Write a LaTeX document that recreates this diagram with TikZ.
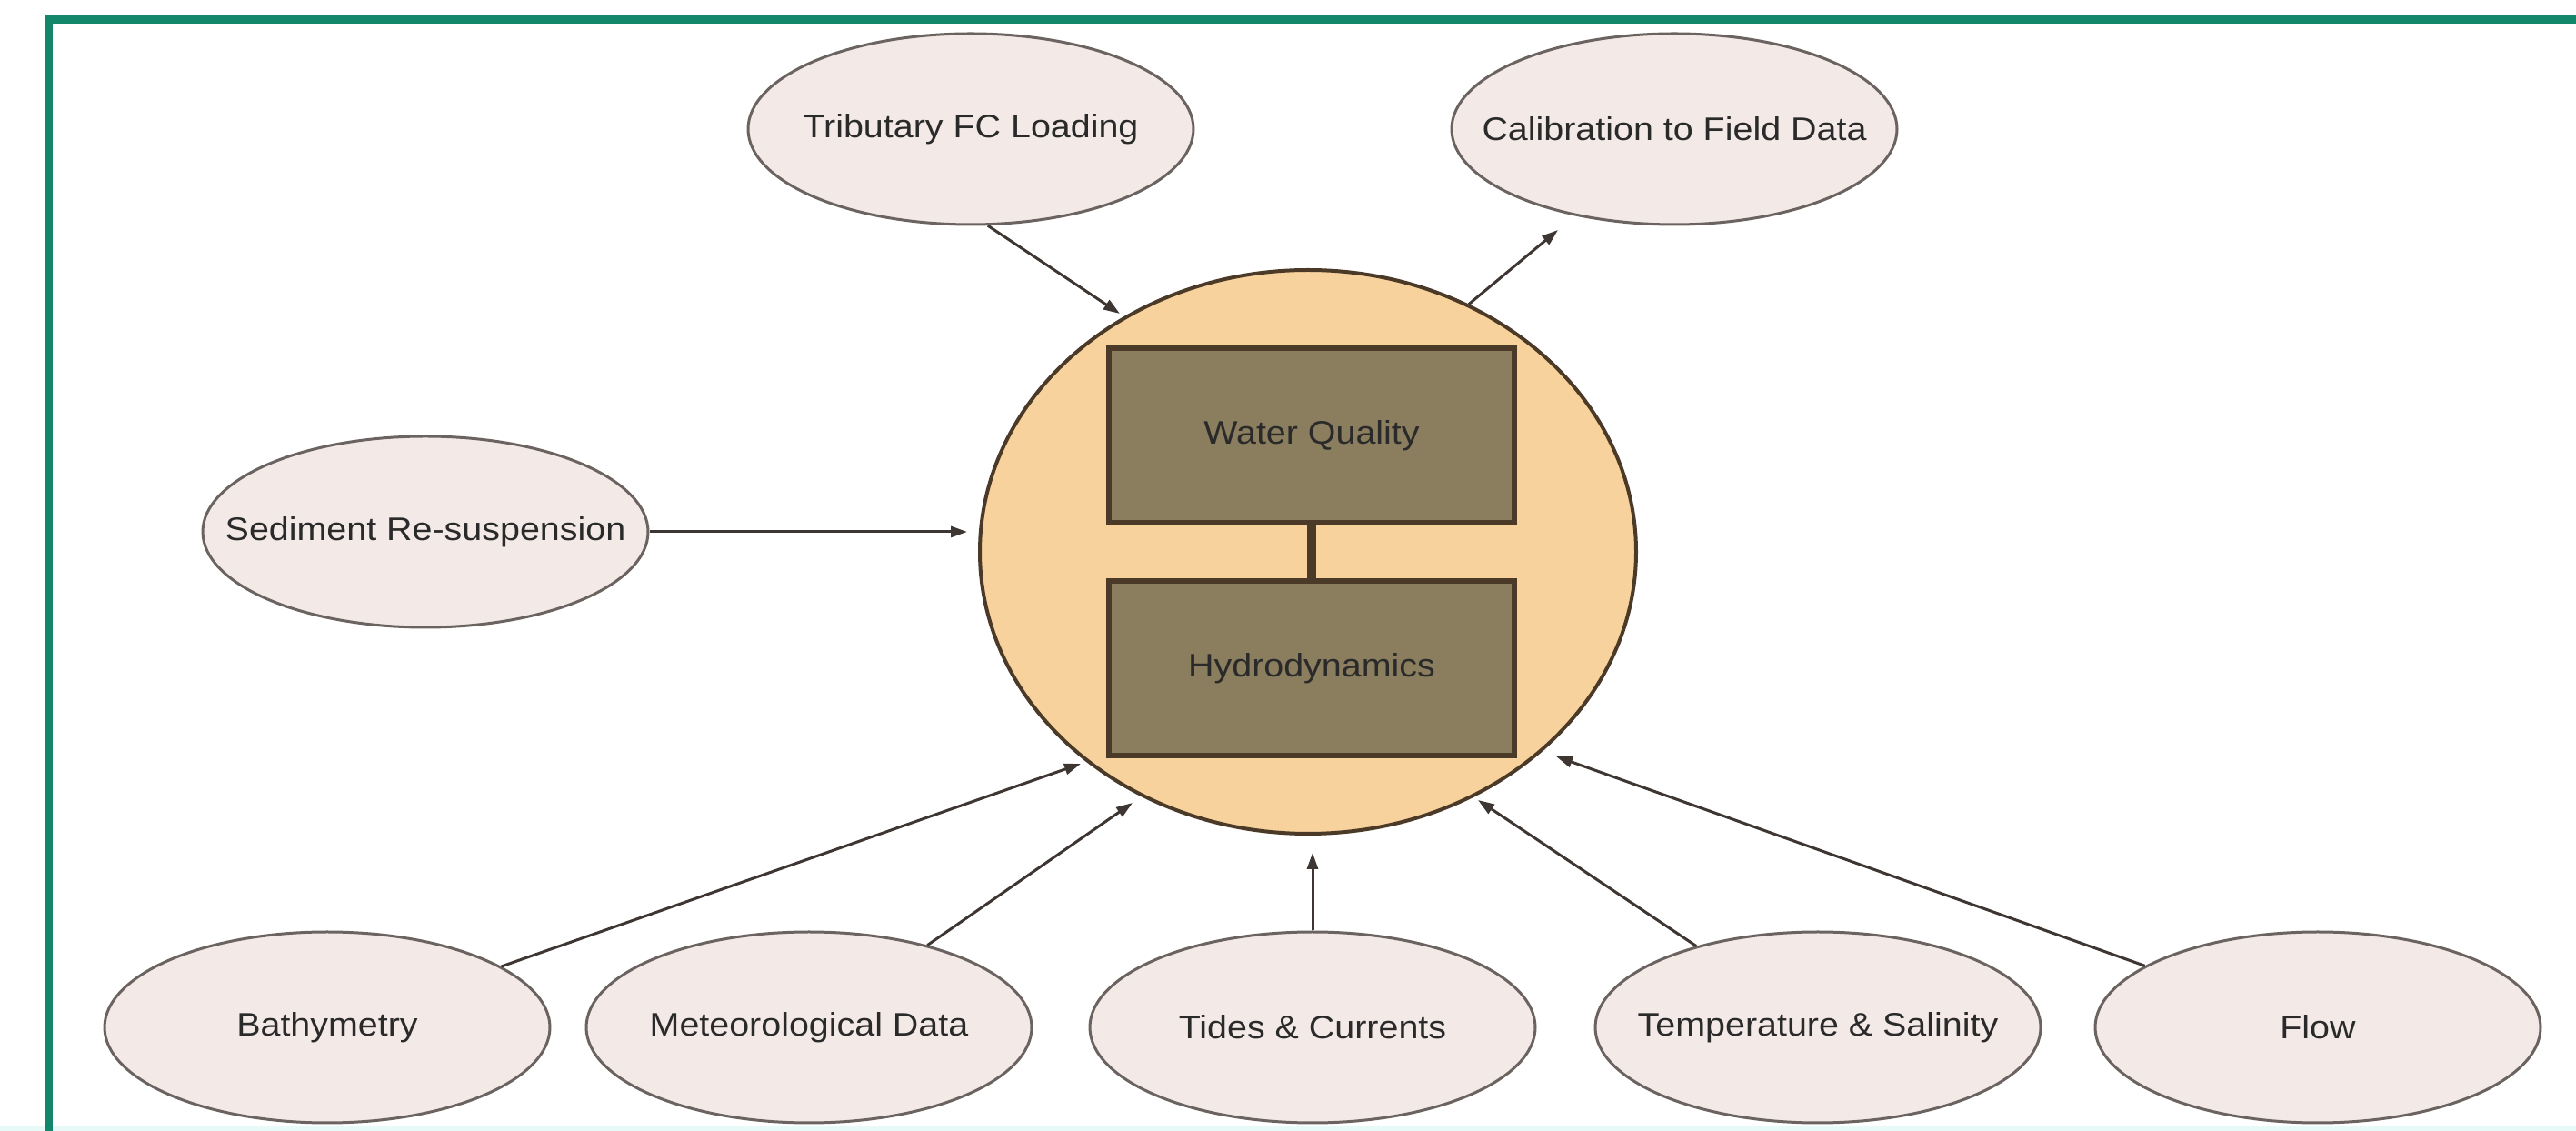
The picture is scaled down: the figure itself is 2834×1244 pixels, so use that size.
\documentclass[tikz,border=0pt]{standalone}
\usepackage{fontspec}
\setmainfont{Liberation Sans}[FakeStretch=1.1]
\usetikzlibrary{arrows.meta,shapes.geometric}

\definecolor{framegreen}{HTML}{13876A}
\definecolor{stripcyan}{HTML}{E8FAF8}
\definecolor{ovalfill}{HTML}{F3EAE8}
\definecolor{ovalline}{HTML}{6B6360}
\definecolor{corefill}{HTML}{F7D29C}
\definecolor{brownline}{HTML}{4B3A28}
\definecolor{boxfill}{HTML}{8B7E5E}
\definecolor{arrowline}{HTML}{3E3632}
\definecolor{labeltext}{HTML}{2A2A2A}

\begin{document}
\begin{tikzpicture}[x=0.1mm, y=-0.1mm,
  oval/.style={ellipse, draw=ovalline, fill=ovalfill, line width=0.3mm,
    minimum width=49mm, minimum height=21mm, inner sep=0pt},
  txt/.style={text=labeltext, font=\fontsize{10.2pt}{12pt}\selectfont, inner sep=0pt},
  core/.style={ellipse, draw=brownline, fill=corefill, line width=0.4mm,
    minimum width=72.2mm, minimum height=62mm, inner sep=0pt},
  modelbox/.style={rectangle, draw=brownline, fill=boxfill, line width=0.6mm,
    minimum width=44.6mm, minimum height=19.2mm, inner sep=0pt,
    text=labeltext, font=\fontsize{10.2pt}{12pt}\selectfont},
  link/.style={draw=brownline, line width=1mm},
  arr/.style={draw=arrowline, line width=0.3mm,
    -{Triangle[length=1.8mm, width=1.2mm]}}]

\useasboundingbox (0,0) rectangle (2834,1244);

% frame along the top and left
\fill[stripcyan] (0,1238) rectangle (2834,1244);
\draw[framegreen, line width=0.9mm] (2834,22) -- (53,22) -- (53,1244);

% central model
\node[core] (core) at (1439,607) {};
\node[modelbox] (wq) at (1443,479) {Water Quality};
\node[modelbox] (hd) at (1443,735) {Hydrodynamics};
\draw[link] (wq.south) -- (hd.north);

% inputs and outputs
\node[oval] (trib) at (1068,142) {};
\node[txt] (trib-t) at (trib) {Tributary FC Loading};
\node[oval] (cal) at (1842,142) {};
\node[txt] (cal-t) at (cal) {Calibration to Field Data};
\node[oval] (sed) at (468,585) {};
\node[txt] (sed-t) at (sed) {Sediment Re-suspension};
\node[oval] (bath) at (360,1130) {};
\node[txt] (bath-t) at (bath) {Bathymetry};
\node[oval] (met) at (890,1130) {};
\node[txt] (met-t) at (met) {Meteorological Data};
\node[oval] (tide) at (1444,1130) {};
\node[txt] (tide-t) at (tide) {Tides \& Currents};
\node[oval] (temp) at (2000,1130) {};
\node[txt] (temp-t) at (temp) {Temperature \& Salinity};
\node[oval] (flow) at (2550,1130) {};
\node[txt] (flow-t) at (flow) {Flow};

% arrow tips, just short of the target outlines
\coordinate (tTrib) at (1232,345);
\coordinate (tCal) at (1714,253);
\coordinate (tSed) at (1064,585);
\coordinate (tBath) at (1189,840);
\coordinate (tMet) at (1246,883);
\coordinate (tTide) at (1444,938);
\coordinate (tTemp) at (1626,880);
\coordinate (tFlow) at (1712,832);

\draw[arr] (trib.-80) -- (tTrib);
\draw[arr] (core.57) -- (tCal);
\draw[arr] (sed) -- (tSed);
\draw[arr] (bath) -- (tBath);
\draw[arr] (met) -- (tMet);
\draw[arr] (tide) -- (tTide);
\draw[arr] (temp) -- (tTemp);
\draw[arr] (flow) -- (tFlow);

\end{tikzpicture}
\end{document}
